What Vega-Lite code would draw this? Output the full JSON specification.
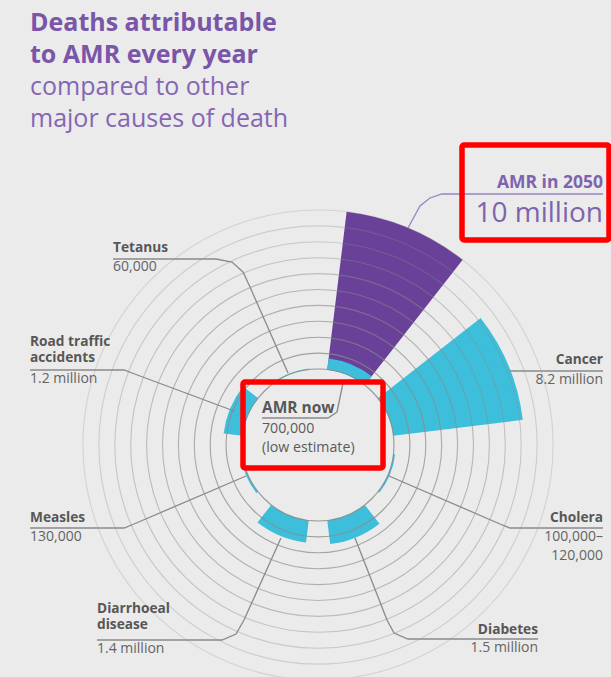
{
  "$schema": "https://vega.github.io/schema/vega-lite/v6.json",
  "width": 586,
  "height": 464,
  "autosize": {"type": "none"},
  "padding": {"left": 25, "top": 213, "right": 0, "bottom": 0},
  "background": "#ebebeb",
  "title": {
    "text": ["Deaths attributable", "to AMR every year"],
    "subtitle": ["compared to other", "major causes of death"],
    "anchor": "start",
    "frame": "group",
    "offset": 10,
    "dx": 5,
    "font": "Open Sans",
    "fontSize": 25,
    "fontWeight": "bold",
    "color": "#7a55a8",
    "lineHeight": 32,
    "subtitleFont": "Open Sans",
    "subtitleFontSize": 25,
    "subtitleFontWeight": "normal",
    "subtitleColor": "#8566b3",
    "subtitleLineHeight": 32,
    "subtitlePadding": 7
  },
  "config": {"view": {"stroke": null}},
  "datasets": {
    "causes": [
      {"cause": "AMR in 2050", "slot": 1, "deaths_m": 10},
      {"cause": "AMR now", "slot": 1, "deaths_m": 0.7},
      {"cause": "Cancer", "slot": 2, "deaths_m": 8.2},
      {"cause": "Cholera", "slot": 3, "deaths_m": 0.11},
      {"cause": "Diabetes", "slot": 4, "deaths_m": 1.5},
      {"cause": "Diarrhoeal disease", "slot": 5, "deaths_m": 1.4},
      {"cause": "Measles", "slot": 6, "deaths_m": 0.13},
      {"cause": "Road traffic accidents", "slot": 7, "deaths_m": 1.2},
      {"cause": "Tetanus", "slot": 8, "deaths_m": 0.06}
    ],
    "rings": [
      {"m": 0}, {"m": 1}, {"m": 2}, {"m": 3}, {"m": 4}, {"m": 5},
      {"m": 6}, {"m": 7}, {"m": 8}, {"m": 9}, {"m": 10}
    ],
    "leaders": [
      {"cause": "Tetanus", "seq": 1, "x": -205, "y": -186},
      {"cause": "Tetanus", "seq": 2, "x": -102, "y": -186},
      {"cause": "Tetanus", "seq": 3, "x": -86, "y": -183},
      {"cause": "Tetanus", "seq": 4, "x": -75, "y": -173},
      {"cause": "Tetanus", "seq": 5, "x": -68, "y": -158},
      {"cause": "Tetanus", "seq": 6, "x": -30, "y": -72},
      {"cause": "Road traffic accidents", "seq": 1, "x": -288, "y": -75},
      {"cause": "Road traffic accidents", "seq": 2, "x": -194, "y": -75},
      {"cause": "Road traffic accidents", "seq": 3, "x": -186, "y": -72},
      {"cause": "Road traffic accidents", "seq": 4, "x": -84, "y": -34},
      {"cause": "Measles", "seq": 1, "x": -288, "y": 83},
      {"cause": "Measles", "seq": 2, "x": -194, "y": 83},
      {"cause": "Measles", "seq": 3, "x": -184, "y": 79},
      {"cause": "Measles", "seq": 4, "x": -72, "y": 31},
      {"cause": "Diarrhoeal disease", "seq": 1, "x": -221, "y": 195},
      {"cause": "Diarrhoeal disease", "seq": 2, "x": -96, "y": 195},
      {"cause": "Diarrhoeal disease", "seq": 3, "x": -82, "y": 189},
      {"cause": "Diarrhoeal disease", "seq": 4, "x": -74, "y": 175},
      {"cause": "Diarrhoeal disease", "seq": 5, "x": -37, "y": 93},
      {"cause": "Diabetes", "seq": 1, "x": 37, "y": 93},
      {"cause": "Diabetes", "seq": 2, "x": 69, "y": 175},
      {"cause": "Diabetes", "seq": 3, "x": 76, "y": 188},
      {"cause": "Diabetes", "seq": 4, "x": 90, "y": 194},
      {"cause": "Diabetes", "seq": 5, "x": 220, "y": 194},
      {"cause": "Cholera", "seq": 1, "x": 71, "y": 31},
      {"cause": "Cholera", "seq": 2, "x": 182, "y": 79},
      {"cause": "Cholera", "seq": 3, "x": 192, "y": 83},
      {"cause": "Cholera", "seq": 4, "x": 285, "y": 83},
      {"cause": "Cancer", "seq": 1, "x": 192, "y": -74},
      {"cause": "Cancer", "seq": 2, "x": 285, "y": -74},
      {"cause": "AMR in 2050", "seq": 1, "x": 90, "y": -217},
      {"cause": "AMR in 2050", "seq": 2, "x": 102, "y": -239},
      {"cause": "AMR in 2050", "seq": 3, "x": 112, "y": -247},
      {"cause": "AMR in 2050", "seq": 4, "x": 124, "y": -251},
      {"cause": "AMR in 2050", "seq": 5, "x": 285, "y": -251},
      {"cause": "AMR now", "seq": 1, "x": -56, "y": -27},
      {"cause": "AMR now", "seq": 2, "x": 10, "y": -27},
      {"cause": "AMR now", "seq": 3, "x": 19, "y": -33},
      {"cause": "AMR now", "seq": 4, "x": 25, "y": -62}
    ],
    "labels": [
      {"cause": "Tetanus", "side": "left", "name": "Tetanus", "nx": -205, "ny": -193, "amount": "60,000", "ax": -205, "ay": -174},
      {"cause": "Road traffic accidents", "side": "left", "name": "Road traffic\naccidents", "nx": -288, "ny": -99, "amount": "1.2 million", "ax": -288, "ay": -62},
      {"cause": "Measles", "side": "left", "name": "Measles", "nx": -288, "ny": 77, "amount": "130,000", "ax": -288, "ay": 96},
      {"cause": "Diarrhoeal disease", "side": "left", "name": "Diarrhoeal\ndisease", "nx": -221, "ny": 168, "amount": "1.4 million", "ax": -221, "ay": 208},
      {"cause": "AMR now", "side": "centre", "name": "AMR now", "nx": -56, "ny": -32, "amount": "700,000\n(low estimate)", "ax": -56, "ay": -12},
      {"cause": "Cancer", "side": "right", "name": "Cancer", "nx": 285, "ny": -81, "amount": "8.2 million", "ax": 285, "ay": -61},
      {"cause": "Cholera", "side": "right", "name": "Cholera", "nx": 285, "ny": 77, "amount": "100,000–\n120,000", "ax": 285, "ay": 96},
      {"cause": "Diabetes", "side": "right", "name": "Diabetes", "nx": 220, "ny": 189, "amount": "1.5 million", "ax": 220, "ay": 207},
      {"cause": "AMR in 2050", "side": "headline", "name": "AMR in 2050", "nx": 285, "ny": -257, "amount": "10 million", "ax": 285, "ay": -223}
    ],
    "highlights": [
      {"box": "AMR in 2050", "x1": 144, "x2": 291, "y1": -300, "y2": -205},
      {"box": "AMR now", "x1": -75, "x2": 65, "y1": -63, "y2": 23}
    ]
  },
  "layer": [
    {
      "data": {"name": "causes"},
      "transform": [{"filter": "datum.cause === 'AMR in 2050'"}],
      "mark": {"type": "arc", "fill": "#6a4199", "thetaOffset": -0.2705, "theta2Offset": 0.2705},
      "encoding": {
        "theta": {"field": "slot", "type": "quantitative", "stack": null, "scale": {"domain": [0.5, 8.5], "range": [0, 6.283185307]}},
        "theta2": {"field": "slot"},
        "radius": {"field": "deaths_m", "type": "quantitative", "scale": {"type": "linear", "domain": [0, 10], "range": [76, 235], "zero": false}},
        "radius2": {"datum": 0}
      }
    },
    {
      "data": {"name": "causes"},
      "transform": [{"filter": "datum.cause !== 'AMR in 2050'"}],
      "mark": {"type": "arc", "fill": "#3dbfdb", "thetaOffset": -0.2705, "theta2Offset": 0.2705},
      "encoding": {
        "theta": {"field": "slot", "type": "quantitative", "stack": null, "scale": {"domain": [0.5, 8.5], "range": [0, 6.283185307]}},
        "theta2": {"field": "slot"},
        "radius": {"field": "deaths_m", "type": "quantitative", "scale": {"type": "linear", "domain": [0, 10], "range": [76, 235], "zero": false}},
        "radius2": {"datum": 0}
      }
    },
    {
      "data": {"name": "rings"},
      "mark": {"type": "arc", "fill": null, "fillOpacity": 0, "stroke": "#8a8a8a", "strokeWidth": 1.1},
      "encoding": {
        "theta": {"datum": 0.5, "type": "quantitative", "scale": {"domain": [0.5, 8.5], "range": [0, 6.283185307]}},
        "theta2": {"datum": 8.5},
        "radius": {"field": "m", "type": "quantitative", "scale": {"type": "linear", "domain": [0, 10], "range": [76, 235], "zero": false}},
        "radius2": {"field": "m"},
        "strokeOpacity": {"field": "m", "type": "quantitative", "scale": {"domain": [0, 10], "range": [0.85, 0.25]}, "legend": null}
      }
    },
    {
      "data": {"name": "leaders"},
      "mark": {"type": "line", "strokeWidth": 1.3, "interpolate": "linear"},
      "encoding": {
        "x": {"field": "x", "type": "quantitative", "scale": {"domain": [-293, 293], "nice": false, "zero": false}, "axis": null},
        "y": {"field": "y", "type": "quantitative", "scale": {"domain": [-232, 232], "nice": false, "zero": false, "reverse": true}, "axis": null},
        "detail": {"field": "cause"},
        "order": {"field": "seq", "type": "quantitative"},
        "color": {
          "field": "cause",
          "type": "nominal",
          "scale": {
            "domain": ["AMR in 2050", "AMR now", "Cancer", "Cholera", "Diabetes", "Diarrhoeal disease", "Measles", "Road traffic accidents", "Tetanus"],
            "range": ["#9a82c2", "#8a8a8a", "#8a8a8a", "#8a8a8a", "#8a8a8a", "#8a8a8a", "#8a8a8a", "#8a8a8a", "#8a8a8a"]
          },
          "legend": null
        }
      }
    },
    {
      "data": {"name": "labels"},
      "transform": [{"filter": "datum.side === 'left'"}],
      "mark": {"type": "text", "align": "left", "baseline": "alphabetic", "font": "Open Sans", "fontSize": 13.7, "fontWeight": "bold", "fill": "#575757", "lineBreak": "\n", "lineHeight": 16},
      "encoding": {
        "x": {"field": "nx", "type": "quantitative", "scale": {"domain": [-293, 293], "nice": false, "zero": false}, "axis": null},
        "y": {"field": "ny", "type": "quantitative", "scale": {"domain": [-232, 232], "nice": false, "zero": false, "reverse": true}, "axis": null},
        "text": {"field": "name"}
      }
    },
    {
      "data": {"name": "labels"},
      "transform": [{"filter": "datum.side === 'left'"}],
      "mark": {"type": "text", "align": "left", "baseline": "alphabetic", "font": "Open Sans", "fontSize": 14, "fill": "#636363", "lineBreak": "\n", "lineHeight": 18.5},
      "encoding": {
        "x": {"field": "ax", "type": "quantitative", "scale": {"domain": [-293, 293], "nice": false, "zero": false}, "axis": null},
        "y": {"field": "ay", "type": "quantitative", "scale": {"domain": [-232, 232], "nice": false, "zero": false, "reverse": true}, "axis": null},
        "text": {"field": "amount"}
      }
    },
    {
      "data": {"name": "labels"},
      "transform": [{"filter": "datum.side === 'centre'"}],
      "mark": {"type": "text", "align": "left", "baseline": "alphabetic", "font": "Open Sans", "fontSize": 15.5, "fontWeight": "bold", "fill": "#575757"},
      "encoding": {
        "x": {"field": "nx", "type": "quantitative", "scale": {"domain": [-293, 293], "nice": false, "zero": false}, "axis": null},
        "y": {"field": "ny", "type": "quantitative", "scale": {"domain": [-232, 232], "nice": false, "zero": false, "reverse": true}, "axis": null},
        "text": {"field": "name"}
      }
    },
    {
      "data": {"name": "labels"},
      "transform": [{"filter": "datum.side === 'centre'"}],
      "mark": {"type": "text", "align": "left", "baseline": "alphabetic", "font": "Open Sans", "fontSize": 14.2, "fill": "#5a5a5a", "lineBreak": "\n", "lineHeight": 18.5},
      "encoding": {
        "x": {"field": "ax", "type": "quantitative", "scale": {"domain": [-293, 293], "nice": false, "zero": false}, "axis": null},
        "y": {"field": "ay", "type": "quantitative", "scale": {"domain": [-232, 232], "nice": false, "zero": false, "reverse": true}, "axis": null},
        "text": {"field": "amount"}
      }
    },
    {
      "data": {"name": "labels"},
      "transform": [{"filter": "datum.side === 'right'"}],
      "mark": {"type": "text", "align": "right", "baseline": "alphabetic", "font": "Open Sans", "fontSize": 13.7, "fontWeight": "bold", "fill": "#575757", "lineBreak": "\n", "lineHeight": 16},
      "encoding": {
        "x": {"field": "nx", "type": "quantitative", "scale": {"domain": [-293, 293], "nice": false, "zero": false}, "axis": null},
        "y": {"field": "ny", "type": "quantitative", "scale": {"domain": [-232, 232], "nice": false, "zero": false, "reverse": true}, "axis": null},
        "text": {"field": "name"}
      }
    },
    {
      "data": {"name": "labels"},
      "transform": [{"filter": "datum.side === 'right'"}],
      "mark": {"type": "text", "align": "right", "baseline": "alphabetic", "font": "Open Sans", "fontSize": 14, "fill": "#636363", "lineBreak": "\n", "lineHeight": 19},
      "encoding": {
        "x": {"field": "ax", "type": "quantitative", "scale": {"domain": [-293, 293], "nice": false, "zero": false}, "axis": null},
        "y": {"field": "ay", "type": "quantitative", "scale": {"domain": [-232, 232], "nice": false, "zero": false, "reverse": true}, "axis": null},
        "text": {"field": "amount"}
      }
    },
    {
      "data": {"name": "labels"},
      "transform": [{"filter": "datum.side === 'headline'"}],
      "mark": {"type": "text", "align": "right", "baseline": "alphabetic", "font": "Open Sans", "fontSize": 17.5, "fontWeight": "bold", "fill": "#7f63ad"},
      "encoding": {
        "x": {"field": "nx", "type": "quantitative", "scale": {"domain": [-293, 293], "nice": false, "zero": false}, "axis": null},
        "y": {"field": "ny", "type": "quantitative", "scale": {"domain": [-232, 232], "nice": false, "zero": false, "reverse": true}, "axis": null},
        "text": {"field": "name"}
      }
    },
    {
      "data": {"name": "labels"},
      "transform": [{"filter": "datum.side === 'headline'"}],
      "mark": {"type": "text", "align": "right", "baseline": "alphabetic", "font": "Open Sans", "fontSize": 28, "fill": "#7f63ad"},
      "encoding": {
        "x": {"field": "ax", "type": "quantitative", "scale": {"domain": [-293, 293], "nice": false, "zero": false}, "axis": null},
        "y": {"field": "ay", "type": "quantitative", "scale": {"domain": [-232, 232], "nice": false, "zero": false, "reverse": true}, "axis": null},
        "text": {"field": "amount"}
      }
    },
    {
      "data": {"name": "highlights"},
      "mark": {"type": "rect", "fill": null, "fillOpacity": 0, "stroke": "#ff0000", "strokeWidth": 5.5, "cornerRadius": 2},
      "encoding": {
        "x": {"field": "x1", "type": "quantitative", "scale": {"domain": [-293, 293], "nice": false, "zero": false}, "axis": null},
        "x2": {"field": "x2"},
        "y": {"field": "y1", "type": "quantitative", "scale": {"domain": [-232, 232], "nice": false, "zero": false, "reverse": true}, "axis": null},
        "y2": {"field": "y2"}
      }
    }
  ]
}
